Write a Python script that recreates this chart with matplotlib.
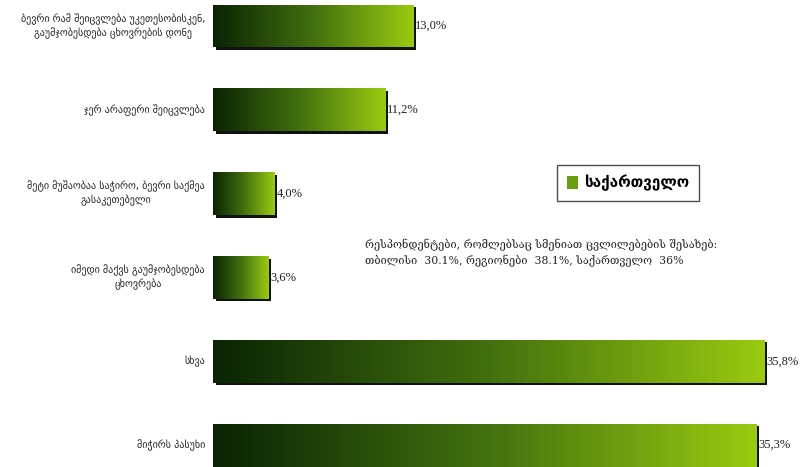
import numpy as np
import matplotlib
matplotlib.use("Agg")
import matplotlib.pyplot as plt
from matplotlib.colors import LinearSegmentedColormap
from matplotlib.patches import Patch
import matplotlib.transforms as mtransforms

categories = [
    "ბევრი რამ შეიცვლება უკეთესობისკენ,\nგაუმჯობესდება ცხოვრების დონე",
    "ჯერ არაფერი შეიცვლება",
    "მეტი მუშაობაა საჭირო, ბევრი საქმეა\nგასაკეთებელი",
    "იმედი მაქვს გაუმჯობესდება\nცხოვრება",
    "სხვა",
    "მიჭირს პასუხი",
]
values = [13.0, 11.2, 4.0, 3.6, 35.8, 35.3]
value_labels = ["13,0%", "11,2%", "4,0%", "3,6%", "35,8%", "35,3%"]
legend_label = "საქართველო"
note_text = ("რესპონდენტები, რომლებსაც სმენიათ ცვლილებების შესახებ:\n"
             "თბილისი  30.1%, რეგიონები  38.1%, საქართველო  36%")

plt.rcParams['font.family'] = ['DejaVu Sans']

fig = plt.figure(figsize=(8, 4.67), dpi=100)
ax = fig.add_axes([213/800, 0, 580/800, 1])
ax.set_xlim(0, 580/15.4)
ax.set_ylim(5.26, -0.31)
ax.axis('off')

cmap = LinearSegmentedColormap.from_list('g', ['#0a2404', '#42700e', '#9acb10'])
grad = np.linspace(0, 1, 256).reshape(1, -1)
h = 0.51
shadow_tr = ax.transData + mtransforms.ScaledTranslation(2.5/100, -2.5/100, fig.dpi_scale_trans)

for i, (v, lab) in enumerate(zip(values, value_labels)):
    ax.barh(i, v, height=h, left=0, color='#111111', transform=shadow_tr, zorder=1)
    bar = ax.barh(i, v, height=h, left=0, color='none', zorder=2)[0]
    im = ax.imshow(grad, cmap=cmap, aspect='auto',
                   extent=(0, v, i + h/2, i - h/2), zorder=2, interpolation='bicubic')
    im.set_clip_path(bar)
    ax.text(v + 0.12, i, lab, va='center', ha='left', fontsize=9,
            family='Liberation Serif', color='#222222', zorder=3)
    fig.text(205/800, 1 - (26 + i*83.8)/467, categories[i], ha='right', va='center',
             multialignment='center', fontsize=7.2, color='#222222', linespacing=1.3)

ax.set_ylim(5.26, -0.31)
ax.set_xlim(0, 580/15.4)

leg = fig.legend(handles=[Patch(facecolor='#6a9e0c', edgecolor='none')],
                 labels=[legend_label], loc='center',
                 bbox_to_anchor=(628/800, 1 - 183/467), frameon=True, fancybox=False,
                 prop={'size': 11, 'weight': 'bold'}, handlelength=0.7, handleheight=0.9,
                 handletextpad=0.4, borderpad=0.65, borderaxespad=0)
leg.get_frame().set_edgecolor('#222222')
leg.get_frame().set_linewidth(1.0)

fig.text(365/800, 1 - 253/467, note_text, ha='left', va='center', fontsize=7.8,
         family='DejaVu Serif', color='#222222', linespacing=1.35)

fig.savefig('out.png', dpi=100, facecolor='white')
